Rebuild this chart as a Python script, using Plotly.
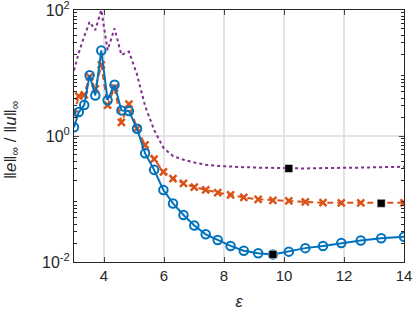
import plotly.graph_objects as go

eps = [3.0, 3.16, 3.34, 3.52, 3.71, 3.91, 4.12, 4.35, 4.58, 4.83, 5.1, 5.37, 5.67, 5.98, 6.3,
       6.65, 7.01, 7.39, 7.79, 8.22, 8.66, 9.14, 9.63, 10.16, 10.71, 11.3, 11.91, 12.56, 13.24, 14.0]

err_a = [1.38, 2.4, 3.1, 9.2, 4.4, 22.8, 3.7, 6.5, 2.55, 2.5, 1.3, 0.53, 0.29, 0.139, 0.085,
         0.0557, 0.038, 0.0275, 0.0224, 0.018, 0.0151, 0.0138, 0.0132, 0.0146, 0.0166,
         0.018, 0.020, 0.022, 0.0238, 0.0252]

err_b = [2.24, 4.3, 4.5, 8.7, 5.6, 13.4, 3.1, 5.8, 1.65, 3.2, 1.32, 0.72, 0.43, 0.27, 0.21,
         0.177, 0.155, 0.139, 0.126, 0.116, 0.106, 0.099, 0.0955, 0.093, 0.09, 0.0875,
         0.087, 0.0865, 0.0855, 0.087]

err_c = [11.0, 21.0, 38.0, 65.0, 48.0, 100.0, 23.0, 51.0, 19.3, 21.9, 9.5, 3.0, 1.25, 0.65,
         0.48, 0.42, 0.38, 0.35, 0.335, 0.325, 0.32, 0.315, 0.31, 0.305, 0.305, 0.31, 0.31,
         0.315, 0.32, 0.325]

min_eps = [9.63, 13.24, 10.16]
min_err = [0.0132, 0.0855, 0.305]

y_title = "‖<i>e</i>‖<sub>∞</sub> / ‖<i>u</i>‖<sub>∞</sub>"

fig = go.Figure()
fig.add_trace(go.Scatter(x=eps, y=err_c, mode="lines",
                         line=dict(color="#7E2F8E", width=2, dash="dot"), showlegend=False))
fig.add_trace(go.Scatter(x=eps, y=err_b, mode="lines+markers",
                         line=dict(color="#D95319", width=2, dash="6px,4px"),
                         marker=dict(symbol="x-thin", size=7, line=dict(color="#D95319", width=2.5)),
                         showlegend=False))
fig.add_trace(go.Scatter(x=eps, y=err_a, mode="lines+markers",
                         line=dict(color="#0072BD", width=2),
                         marker=dict(symbol="circle-open", size=8.5, color="#0072BD",
                                     line=dict(color="#0072BD", width=2)),
                         showlegend=False))
fig.add_trace(go.Scatter(x=min_eps, y=min_err, mode="markers",
                         marker=dict(symbol="square", size=8, color="black",
                                     line=dict(color="white", width=0.5)),
                         showlegend=False))

minor_vals = [m * d for d in [0.01, 0.1, 1, 10] for m in range(2, 10)]

fig.update_layout(
    width=415, height=315,
    margin=dict(l=74, r=11, t=10, b=53),
    paper_bgcolor="white", plot_bgcolor="white",
    font=dict(family="Liberation Sans, Arial, sans-serif", size=15, color="#262626"),
    xaxis=dict(range=[3, 14], tickvals=[4, 6, 8, 10, 12, 14], ticks="inside", ticklen=5,
               automargin=False,
               showline=True, linecolor="#262626", linewidth=1, mirror="ticks",
               showgrid=True, gridcolor="#E3E3E3", gridwidth=2, zeroline=False,
               title=dict(text="<i>ε</i>", standoff=12, font=dict(size=16))),
    yaxis=dict(type="log", range=[-2, 2], tickvals=[0.01, 1, 100],
               ticktext=["10<sup>-2</sup>", "10<sup>0</sup>", "10<sup>2</sup>"],
               ticks="inside", ticklen=5, automargin=False, tickfont=dict(size=16),
               ticklabeloverflow="allow",
               minor=dict(tickvals=minor_vals, ticks="inside", ticklen=3, showgrid=False,
                          tickcolor="#262626"),
               showline=True, linecolor="#262626", linewidth=1, mirror="allticks",
               showgrid=True, gridcolor="#E3E3E3", gridwidth=2, zeroline=False),
    annotations=[dict(text=y_title, xref="paper", yref="paper", x=-0.188, y=0.484,
                      xanchor="center", yanchor="middle", textangle=-90, showarrow=False,
                      font=dict(size=17, color="#262626"))],
)

fig.write_html("out.html", config={"displayModeBar": False},
               post_script="document.body.style.margin='0';document.body.style.overflow='hidden';")
